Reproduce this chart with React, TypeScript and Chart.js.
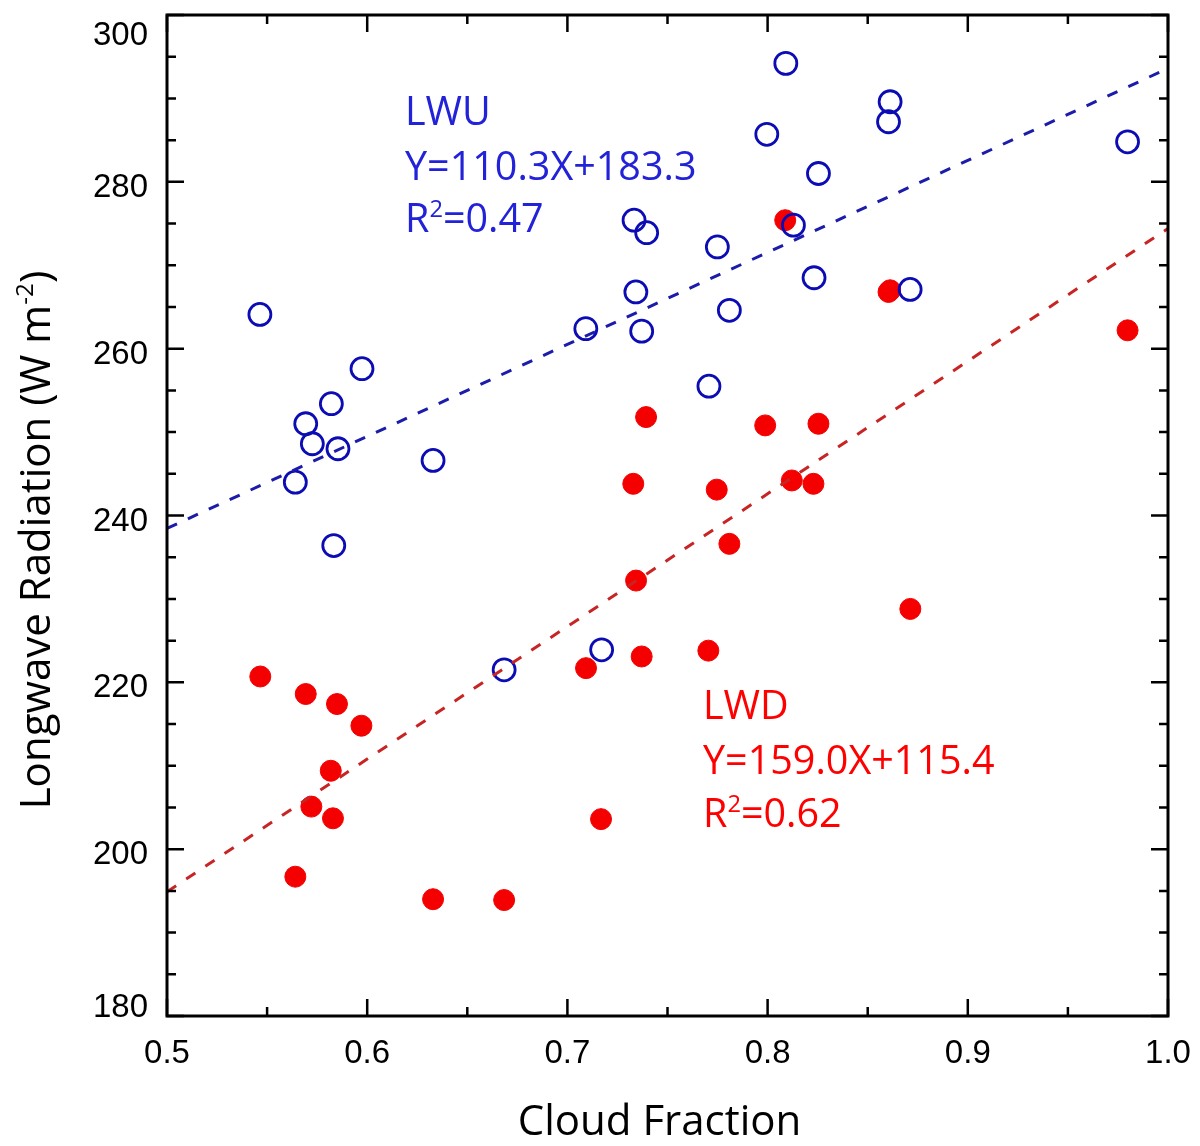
import React, { useEffect, useRef } from 'react';
import { Chart, registerables } from 'chart.js';

Chart.register(...registerables);

// Cloud fraction (x) and longwave upward radiation (LWU, open blue circles)
const lwuCloud = [
  0.5464, 0.5974, 0.5821, 0.5693, 0.5726, 0.5854, 0.6329, 0.5641, 0.5833,
  0.8091, 0.7996, 0.8254, 0.7333, 0.7396, 0.7749, 0.8129, 0.8232, 0.7342,
  0.7809, 0.7092, 0.7371, 0.7707, 0.8604, 0.8612, 0.8712, 0.9798, 0.6684, 0.7171,
];
const lwuValues = [
  264.1, 257.6, 253.4, 251.0, 248.6, 248.0, 246.6, 244.0, 236.4,
  294.2, 285.7, 281.0, 275.4, 273.9, 272.2, 274.8, 268.5, 266.8,
  264.6, 262.4, 262.1, 255.5, 287.2, 289.6, 267.1, 284.8, 221.5, 223.9,
];

// Cloud fraction (x) and longwave downward radiation (LWD, filled red dots)
const lwdCloud = [
  0.5466, 0.5693, 0.5849, 0.5971, 0.5818, 0.5721, 0.5829, 0.5641, 0.6329, 0.6684,
  0.7393, 0.7988, 0.8254, 0.7329, 0.7746, 0.8121, 0.8229, 0.7809, 0.7343, 0.7371,
  0.7704, 0.7093, 0.7168, 0.8088, 0.8604, 0.8612, 0.8713, 0.9798,
];
const lwdValues = [
  220.7, 218.6, 217.4, 214.8, 209.4, 205.1, 203.7, 196.7, 194.0, 193.9,
  251.8, 250.8, 251.0, 243.8, 243.1, 244.2, 243.8, 236.6, 232.2, 223.1,
  223.8, 221.7, 203.6, 275.4, 266.8, 267.0, 228.8, 262.2,
];

// Regression lines (end points at x = 0.5 and x = 1.0)
const fitCloud = [0.5, 1.0];
const lwuFit = [238.45, 293.6];
const lwdFit = [194.9, 274.4];

// Axis ticks
const xTickValues = [0.5, 0.6, 0.7, 0.8, 0.9, 1.0];
const xTickLabels = ['0.5', '0.6', '0.7', '0.8', '0.9', '1.0'];
const yTickValues = [180, 200, 220, 240, 260, 280, 300];
const yTickLabels = ['180', '200', '220', '240', '260', '280', '300'];

const TEXT_FONT = '"Open Sans", "Noto Sans", sans-serif';
const TICK_FONT = '"Liberation Sans", Arial, sans-serif';

type Seg = { t: string; sup?: boolean };

function drawSegs(
  ctx: CanvasRenderingContext2D,
  segs: Seg[],
  x: number,
  y: number,
  size: number,
  color: string,
  align: 'left' | 'center',
  supScale = 0.6,
  supRaise = 0.38
) {
  const supSize = size * supScale;
  const widths = segs.map((s) => {
    ctx.font = `${s.sup ? supSize : size}px ${TEXT_FONT}`;
    return ctx.measureText(s.t).width;
  });
  const total = widths.reduce((a, b) => a + b, 0);
  let cx = align === 'center' ? x - total / 2 : x;
  ctx.fillStyle = color;
  ctx.textAlign = 'left';
  ctx.textBaseline = 'alphabetic';
  segs.forEach((s, i) => {
    ctx.font = `${s.sup ? supSize : size}px ${TEXT_FONT}`;
    ctx.fillText(s.t, cx, s.sup ? y - size * supRaise : y);
    cx += widths[i];
  });
}

const decorPlugin = {
  id: 'decor',
  afterDraw(chart: any) {
    const ctx: CanvasRenderingContext2D = chart.ctx;
    const xs = chart.scales.x;
    const ys = chart.scales.y;
    const { left, right, top, bottom } = chart.chartArea;
    ctx.save();

    // ticks inside the box on all four sides
    ctx.strokeStyle = '#000';
    ctx.lineWidth = 2.5;
    ctx.lineCap = 'butt';
    const majorLen = 17;
    const minorLen = 9;
    ctx.beginPath();
    for (let i = 0; i < xTickValues.length; i++) {
      const v = xTickValues[i];
      const px = xs.getPixelForValue(v);
      ctx.moveTo(px, bottom);
      ctx.lineTo(px, bottom - majorLen);
      ctx.moveTo(px, top);
      ctx.lineTo(px, top + majorLen);
      if (i < xTickValues.length - 1) {
        const m = xs.getPixelForValue((v + xTickValues[i + 1]) / 2);
        ctx.moveTo(m, bottom);
        ctx.lineTo(m, bottom - minorLen);
        ctx.moveTo(m, top);
        ctx.lineTo(m, top + minorLen);
      }
    }
    for (let i = 0; i < yTickValues.length; i++) {
      const v = yTickValues[i];
      const py = ys.getPixelForValue(v);
      ctx.moveTo(left, py);
      ctx.lineTo(left + majorLen, py);
      ctx.moveTo(right, py);
      ctx.lineTo(right - majorLen, py);
      if (i < yTickValues.length - 1) {
        const step = (yTickValues[i + 1] - v) / 4;
        for (let k = 1; k < 4; k++) {
          const m = ys.getPixelForValue(v + step * k);
          ctx.moveTo(left, m);
          ctx.lineTo(left + minorLen, m);
          ctx.moveTo(right, m);
          ctx.lineTo(right - minorLen, m);
        }
      }
    }
    ctx.stroke();

    // box
    ctx.lineWidth = 3;
    ctx.strokeRect(left, top, right - left, bottom - top);

    // tick labels
    ctx.fillStyle = '#000';
    ctx.font = `33px ${TICK_FONT}`;
    ctx.textBaseline = 'alphabetic';
    ctx.textAlign = 'center';
    xTickValues.forEach((v, i) => {
      ctx.fillText(xTickLabels[i], xs.getPixelForValue(v), bottom + 47);
    });
    ctx.textAlign = 'right';
    yTickValues.forEach((v, i) => {
      const py = ys.getPixelForValue(v);
      const base = Math.min(Math.max(py + 15, top + 30), bottom + 1);
      ctx.fillText(yTickLabels[i], left - 19, base);
    });

    // axis titles
    drawSegs(ctx, [{ t: 'Cloud Fraction' }], (left + right) / 2 - 8, 1135, 42, '#000', 'center');
    ctx.save();
    ctx.translate(50, 540);
    ctx.rotate(-Math.PI / 2);
    drawSegs(
      ctx,
      [{ t: 'Longwave Radiation (W m' }, { t: '-2', sup: true }, { t: ')' }],
      0,
      0,
      42,
      '#000',
      'center',
      0.58,
      0.4
    );
    ctx.restore();

    // annotations
    const blue = '#2222d8';
    drawSegs(ctx, [{ t: 'LWU' }], 405, 125, 39.5, blue, 'left');
    drawSegs(ctx, [{ t: 'Y=110.3X+183.3' }], 405, 180, 39.5, blue, 'left');
    drawSegs(ctx, [{ t: 'R' }, { t: '2', sup: true }, { t: '=0.47' }], 405, 232, 39.5, blue, 'left');
    const red = '#ff0000';
    drawSegs(ctx, [{ t: 'LWD' }], 703, 719, 39.5, red, 'left');
    drawSegs(ctx, [{ t: 'Y=159.0X+115.4' }], 703, 774, 39.5, red, 'left');
    drawSegs(ctx, [{ t: 'R' }, { t: '2', sup: true }, { t: '=0.62' }], 703, 827, 39.5, red, 'left');

    ctx.restore();
  },
};

export default function App() {
  const canvasRef = useRef<HTMLCanvasElement | null>(null);

  useEffect(() => {
    if (!canvasRef.current) return;
    const toPts = (xs: number[], ys: number[]) => xs.map((x, i) => ({ x, y: ys[i] }));
    const chart = new Chart(canvasRef.current, {
      type: 'scatter',
      data: {
        datasets: [
          {
            label: 'LWU fit',
            data: toPts(fitCloud, lwuFit),
            showLine: true,
            borderColor: '#1c1caa',
            borderWidth: 3,
            borderDash: [11, 12],
            pointRadius: 0,
            fill: false,
          },
          {
            label: 'LWD fit',
            data: toPts(fitCloud, lwdFit),
            showLine: true,
            borderColor: '#c82424',
            borderWidth: 3,
            borderDash: [11, 12],
            pointRadius: 0,
            fill: false,
          },
          {
            label: 'LWU',
            data: toPts(lwuCloud, lwuValues),
            pointStyle: 'circle',
            pointRadius: 11,
            pointBorderWidth: 2.8,
            borderColor: '#0c0cb4',
            backgroundColor: 'rgba(0,0,0,0)',
            pointBackgroundColor: 'rgba(0,0,0,0)',
            pointBorderColor: '#0c0cb4',
          },
          {
            label: 'LWD',
            data: toPts(lwdCloud, lwdValues),
            pointStyle: 'circle',
            pointRadius: 10.5,
            pointBorderWidth: 1,
            borderColor: '#f40000',
            backgroundColor: '#f40000',
            pointBackgroundColor: '#f40000',
            pointBorderColor: '#f40000',
          },
        ],
      },
      options: {
        animation: false,
        responsive: false,
        devicePixelRatio: 1,
        layout: { padding: { left: 167, top: 15, right: 32, bottom: 130 } },
        plugins: {
          legend: { display: false },
          tooltip: { enabled: false },
          title: { display: false },
        },
        scales: {
          x: {
            type: 'linear',
            min: 0.5,
            max: 1.0,
            grid: { display: false, drawTicks: false },
            border: { display: false },
            ticks: { display: false, stepSize: 0.1 },
          },
          y: {
            type: 'linear',
            min: 180,
            max: 300,
            grid: { display: false, drawTicks: false },
            border: { display: false },
            ticks: { display: false, stepSize: 20 },
          },
        },
      },
      plugins: [decorPlugin],
    });
    return () => chart.destroy();
  }, []);

  return (
    <div style={{ position: 'absolute', left: 0, top: 0, width: 1200, height: 1146, background: '#fff' }}>
      <canvas ref={canvasRef} width={1200} height={1146} style={{ display: 'block' }} />
    </div>
  );
}
